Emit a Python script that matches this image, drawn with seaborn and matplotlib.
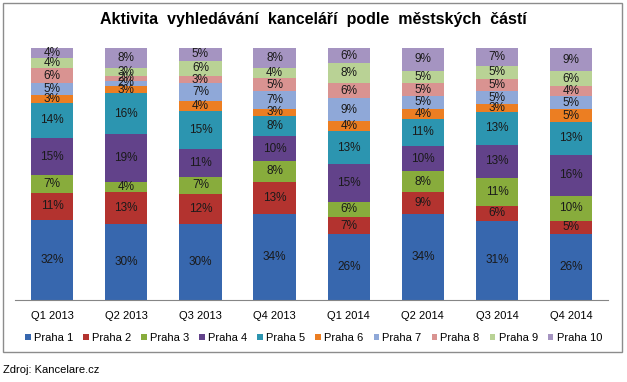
import numpy as np
import pandas as pd
import seaborn as sns
import matplotlib.pyplot as plt
from matplotlib.patches import Rectangle

quarters = ["Q1 2013", "Q2 2013", "Q3 2013", "Q4 2013",
            "Q1 2014", "Q2 2014", "Q3 2014", "Q4 2014"]
districts = ["Praha 1", "Praha 2", "Praha 3", "Praha 4", "Praha 5",
             "Praha 6", "Praha 7", "Praha 8", "Praha 9", "Praha 10"]

# share of searches (%) per district, one list per district across quarters
praha1 = [32, 30, 30, 34, 26, 34, 31, 26]
praha2 = [11, 13, 12, 13, 7, 9, 6, 5]
praha3 = [7, 4, 7, 8, 6, 8, 11, 10]
praha4 = [15, 19, 11, 10, 15, 10, 13, 16]
praha5 = [14, 16, 15, 8, 13, 11, 13, 13]
praha6 = [3, 3, 4, 3, 4, 4, 3, 5]
praha7 = [5, 2, 7, 7, 9, 5, 5, 5]
praha8 = [6, 2, 3, 5, 6, 5, 5, 4]
praha9 = [4, 3, 6, 4, 8, 5, 5, 6]
praha10 = [4, 8, 5, 8, 6, 9, 7, 9]

values = [praha1, praha2, praha3, praha4, praha5,
          praha6, praha7, praha8, praha9, praha10]
colors = ["#3767AE", "#B3332F", "#88AC3C", "#62428A", "#2C95B0",
          "#EC7E22", "#8FA8D8", "#D99391", "#B9D295", "#A594C1"]

rows = []
for d, vals in zip(districts, values):
    for q, v in zip(quarters, vals):
        rows.append({"quarter": q, "district": d, "value": v})
df = pd.DataFrame(rows)
totals = df.groupby("quarter")["value"].transform("sum")
df["share"] = df["value"] / totals * 100

plt.rcParams["font.family"] = ["Liberation Sans", "DejaVu Sans"]

fig = plt.figure(figsize=(6.27, 3.82), dpi=100)
ax = fig.add_axes([0.024, 0.215, 0.946, 0.659])

bottom = np.zeros(len(quarters))
for d, c in zip(districts, colors):
    sub = df[df["district"] == d].set_index("quarter").loc[quarters].reset_index()
    sns.barplot(data=sub, x="quarter", y="share", order=quarters, color=c,
                bottom=bottom, width=0.57, ax=ax, label=d, saturation=1,
                edgecolor="none")
    for i, (h, v) in enumerate(zip(sub["share"], sub["value"])):
        ax.text(i, bottom[i] + h / 2, f"{v}%", ha="center", va="center",
                fontsize=8.5, color="#1a1a1a")
    bottom = bottom + sub["share"].values

ax.set_ylim(0, 100)
ax.set_xlim(-0.5, 7.5)
ax.set_xlabel("")
ax.set_ylabel("")
ax.set_yticks([])
for s in ["top", "right", "left"]:
    ax.spines[s].set_visible(False)
ax.spines["bottom"].set_color("#868686")
ax.tick_params(axis="x", length=0, labelsize=8, pad=8)

handles, labels = ax.get_legend_handles_labels()
if ax.get_legend() is not None:
    ax.get_legend().remove()
fig.legend(handles, labels, loc="center", bbox_to_anchor=(0.5, 0.115),
           ncol=10, frameon=False, fontsize=8, handlelength=0.5,
           handleheight=0.5, handletextpad=0.3, columnspacing=0.9)

fig.text(0.5, 0.948, "Aktivita  vyhledávání  kanceláří  podle  městských  částí",
         ha="center", va="center", fontsize=11.5, fontweight="bold")
fig.patches.append(Rectangle((3 / 627, 1 - 352 / 382), 619 / 627, 349 / 382,
                             transform=fig.transFigure, fill=False,
                             edgecolor="#8c8c8c", linewidth=1))
fig.text(3 / 627, 1 - 370 / 382, "Zdroj: Kancelare.cz", ha="left",
         va="center", fontsize=8)

fig.savefig("out.png", dpi=100)
